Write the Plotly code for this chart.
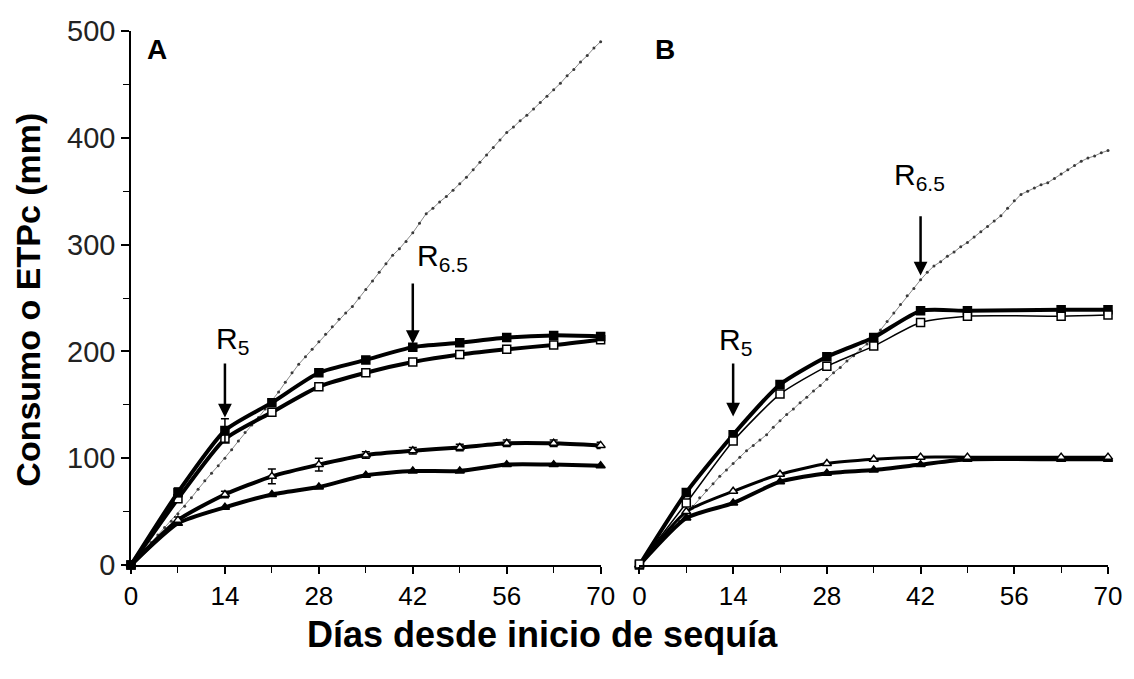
import plotly.graph_objects as go

# Days after drought onset
days_a = [0, 7, 14, 21, 28, 35, 42, 49, 56, 63, 70]
days_b = [0, 7, 14, 21, 28, 35, 42, 49, 63, 70]
days_daily = list(range(0, 71))

# Panel A: cumulative water use (mm)
a_sq_fill = [0, 68, 126, 152, 180, 192, 204, 208, 213, 215, 214]
a_sq_fill_err = [0, 4, 11, 3, 3, 3, 3, 3, 3, 3, 3]
a_sq_open = [0, 62, 118, 143, 167, 180, 190, 197, 202, 206, 211]
a_tri_open = [0, 42, 66, 83, 94, 103, 107, 110, 114, 114, 112]
a_tri_open_err = [0, 3, 3, 7, 6, 3, 3, 3, 3, 3, 3]
a_tri_fill = [0, 39, 54, 66, 73, 84, 88, 88, 94, 94, 93]

# Panel A: cumulative crop evapotranspiration ETPc (mm), daily
a_etp = [0, 7, 14, 21, 28, 35, 41, 48, 55, 63, 71, 79, 86, 93, 100,
         108, 116, 124, 131, 138, 146, 153, 162, 171, 180, 188, 195, 202,
         209, 216, 223, 230, 236, 242, 250, 258, 266, 274, 282, 290, 296,
         303, 311, 320, 329, 334, 340, 345, 351, 357, 363, 370, 377, 384,
         391, 398, 405, 410, 416, 421, 427, 433, 439, 445, 451, 458, 464,
         471, 477, 484, 490]

# Panel B: cumulative water use (mm)
b_sq_fill = [0, 68, 122, 169, 195, 213, 238, 238, 239, 239]
b_sq_open = [1, 58, 116, 160, 186, 205, 227, 233, 233, 234]
b_tri_open = [0, 50, 69, 85, 95, 99, 101, 101, 101, 101]
b_tri_fill = [0, 44, 58, 78, 86, 89, 94, 99, 99, 99]

# Panel B: cumulative crop evapotranspiration ETPc (mm), daily
b_etp = [0, 7, 14, 21, 28, 35, 41, 48, 55, 63, 70, 76, 83, 89, 95,
         101, 107, 112, 117, 122, 129, 135, 141, 146, 152, 157, 163, 168,
         174, 180, 185, 191, 196, 202, 207, 213, 220, 228, 236, 244, 252,
         259, 267, 274, 280, 284, 289, 293, 298, 302, 307, 312, 317, 322,
         327, 334, 341, 347, 350, 353, 356, 358, 362, 366, 370, 374, 378,
         381, 383, 386, 388]

x_ticks = [0, 14, 28, 42, 56, 70]
y_ticks = [0, 100, 200, 300, 400, 500]

fig = go.Figure()

SANS = "Liberation Sans, Arial, sans-serif"


def etp_trace(x, y, xa):
    return go.Scatter(
        x=x, y=y, xaxis=xa, yaxis="y", mode="lines+markers",
        line=dict(color="#8a8a8a", width=1),
        marker=dict(symbol="circle", size=3, color="#3a3a3a"),
        cliponaxis=False, hoverinfo="skip")


def series(x, y, xa, symbol, filled, width, err=None, size=8):
    kw = {}
    if err is not None:
        kw["error_y"] = dict(type="data", array=err, visible=True,
                             color="black", thickness=1.5, width=4)
    return go.Scatter(
        x=x, y=y, xaxis=xa, yaxis="y", mode="lines+markers",
        line=dict(color="black", width=width, shape="spline", smoothing=0.6),
        marker=dict(symbol=symbol, size=size,
                    color="black" if filled else "white",
                    line=dict(color="black", width=1.5)),
        cliponaxis=False, **kw)


# Panel A
fig.add_trace(etp_trace(days_daily, a_etp, "x"))
fig.add_trace(series(days_a, a_tri_fill, "x", "triangle-up", True, 4))
fig.add_trace(series(days_a, a_tri_open, "x", "triangle-up", False, 4,
                     err=a_tri_open_err))
fig.add_trace(series(days_a, a_sq_open, "x", "square", False, 4))
fig.add_trace(series(days_a, a_sq_fill, "x", "square", True, 4,
                     err=a_sq_fill_err))

# Panel B
fig.add_trace(etp_trace(days_daily, b_etp, "x2"))
fig.add_trace(series(days_b, b_tri_fill, "x2", "triangle-up", True, 4))
fig.add_trace(series(days_b, b_tri_open, "x2", "triangle-up", False, 3))
fig.add_trace(series(days_b, b_sq_fill, "x2", "square", True, 4))
fig.add_trace(series(days_b, b_sq_open, "x2", "square", False, 1.5))

xaxis_common = dict(
    range=[0, 70], tickvals=x_ticks, ticktext=[str(v) for v in x_ticks],
    showline=True, linecolor="black", linewidth=1.5, mirror=False,
    ticks="outside", ticklen=7, tickwidth=1.5, tickcolor="black",
    minor=dict(dtick=7, tick0=0, ticks="outside", ticklen=6,
               tickwidth=1, tickcolor="black"),
    showgrid=False, zeroline=False,
    tickfont=dict(family=SANS, size=26, color="black"),
    anchor="y",
)

fig.update_layout(
    width=1134, height=679,
    margin=dict(l=131, r=21, t=31, b=114),
    paper_bgcolor="white", plot_bgcolor="white",
    showlegend=False,
    xaxis=dict(domain=[0, 0.4807], **xaxis_common),
    xaxis2=dict(domain=[0.5204, 1.0], **xaxis_common),
    yaxis=dict(
        range=[0, 500], tickvals=y_ticks,
        showline=True, linecolor="black", linewidth=1.5,
        ticks="outside", ticklen=8, tickwidth=1.5, tickcolor="black",
        minor=dict(dtick=50, ticks="outside", ticklen=6, tickwidth=1,
                   tickcolor="black"),
        showgrid=False, zeroline=False,
        tickfont=dict(family=SANS, size=29, color="#222"),
    ),
    yaxis2=dict(
        range=[0, 500], tickvals=y_ticks, showticklabels=False,
        overlaying="y", anchor="free", position=0.5204, side="left",
        showline=True, linecolor="black", linewidth=1.5,
        ticks="outside", ticklen=6, tickwidth=1, tickcolor="black",
        showgrid=False, zeroline=False,
    ),
)

annotations = [
    dict(text="<b>Consumo o ETPc (mm)</b>", xref="paper", yref="paper",
         x=-0.1049, y=0.496, xanchor="center", yanchor="middle",
         textangle=-90, showarrow=False,
         font=dict(family=SANS, size=34, color="black")),
    dict(text="<b>Días desde inicio de sequía</b>", xref="paper", yref="paper",
         x=0.4216, y=-0.131, xanchor="center", yanchor="middle",
         showarrow=False, font=dict(family=SANS, size=36, color="black")),
    dict(text="<b>A</b>", xref="x domain", yref="paper", x=0.03, y=0.965,
         xanchor="left", yanchor="middle", showarrow=False,
         font=dict(family=SANS, size=28, color="black")),
    dict(text="<b>B</b>", xref="x2 domain", yref="paper", x=0.03, y=0.965,
         xanchor="left", yanchor="middle", showarrow=False,
         font=dict(family=SANS, size=28, color="black")),
    dict(text="R<sub>5</sub>", xref="x", yref="y", x=15.1, y=210,
         showarrow=False, font=dict(family=SANS, size=30, color="black")),
    dict(text="R<sub>6.5</sub>", xref="x", yref="y", x=46.4, y=288,
         showarrow=False, font=dict(family=SANS, size=30, color="black")),
    dict(text="R<sub>5</sub>", xref="x2", yref="y", x=14.3, y=209,
         showarrow=False, font=dict(family=SANS, size=30, color="black")),
    dict(text="R<sub>6.5</sub>", xref="x2", yref="y", x=41.9, y=364,
         showarrow=False, font=dict(family=SANS, size=30, color="black")),
]

# Phenological stage arrows
for xa, xd, y_tail, y_head in [("x", 14, 190, 138), ("x", 42, 265, 207),
                                ("x2", 14, 190, 139), ("x2", 42, 328, 271)]:
    annotations.append(dict(
        text="", xref=xa, yref="y", x=xd, y=y_head,
        axref=xa, ayref="y", ax=xd, ay=y_tail,
        showarrow=True, arrowhead=2, arrowsize=1.1, arrowwidth=2.5,
        arrowcolor="black"))

fig.update_layout(annotations=annotations)

fig.write_html("out.html")
